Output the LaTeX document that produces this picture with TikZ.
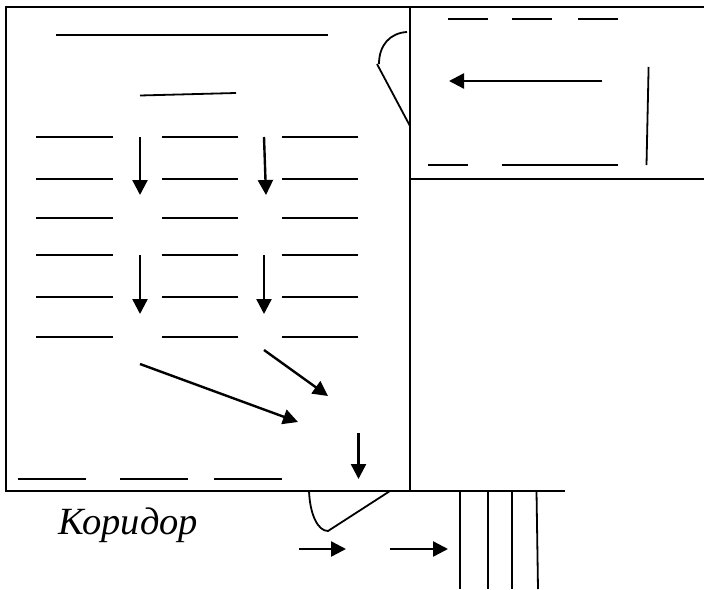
\documentclass[tikz,border=0pt]{standalone}
\usepackage{fontspec}
\setmainfont{Liberation Serif}
\usetikzlibrary{arrows.meta}
\tikzset{
  wall/.style={line width=2pt,black},
  seat/.style={line width=1.8pt,black},
  flow/.style={line width=2.4pt,black,-{Triangle[length=15pt,width=15pt]}},
}
\begin{document}
\begin{tikzpicture}[x=1pt,y=-1pt]
\useasboundingbox (0,0) rectangle (704,589);
% walls
\draw[wall] (704,7) -- (6,7) -- (6,491) -- (565,491);
\draw[wall] (410,7) -- (410,491);
\draw[wall] (410,179) -- (704,179);
% upper door
\draw[seat] (407,32) .. controls (390,33) and (379,45) .. (379,64);
\draw[seat] (377,64) -- (410,126);
% right room
\foreach \a/\b/\y in {448/488/19,512/552/19,578/618/19,428/468/165,502/618/165}
  \draw[seat] (\a,\y) -- (\b,\y);
\draw[seat] (648.6,67) -- (646.5,165);
\draw[flow] (602,81) -- (449,81);
% main room
\draw[seat] (56,35) -- (328,35);
\draw[seat] (140,95.5) -- (236,93);
\foreach \y in {137,179,218,255,297,337}
  \foreach \a/\b in {36/113,162/238,282/358}
    \draw[seat] (\a,\y) -- (\b,\y);
\foreach \a/\b in {18/86,120/188,214/282}
  \draw[seat] (\a,479) -- (\b,479);
\draw[flow] (140,137) -- (140,195);
\draw[flow] (264,137) -- (266,195);
\draw[flow] (140,255) -- (140,314);
\draw[flow] (264,255) -- (264,314);
\draw[flow] (140,364) -- (298,422);
\draw[flow] (264,350) -- (328,396);
\draw[flow] (358.5,433) -- (358.5,479);
% lower door
\draw[seat] (309,491) .. controls (310,515) and (318,531) .. (328,531) -- (390,491);
% corridor
\draw[flow] (299,549) -- (346,549);
\draw[flow] (390,549) -- (448,549);
\foreach \x in {460,488,512}
  \draw[seat] (\x,491) -- (\x,589);
\draw[seat] (536.5,491) -- (538,589);
\node[anchor=base west,inner sep=0pt,font=\itshape\fontsize{38.5}{44}\selectfont] (corridor) at (58,534) {Коридор};
\end{tikzpicture}
\end{document}
